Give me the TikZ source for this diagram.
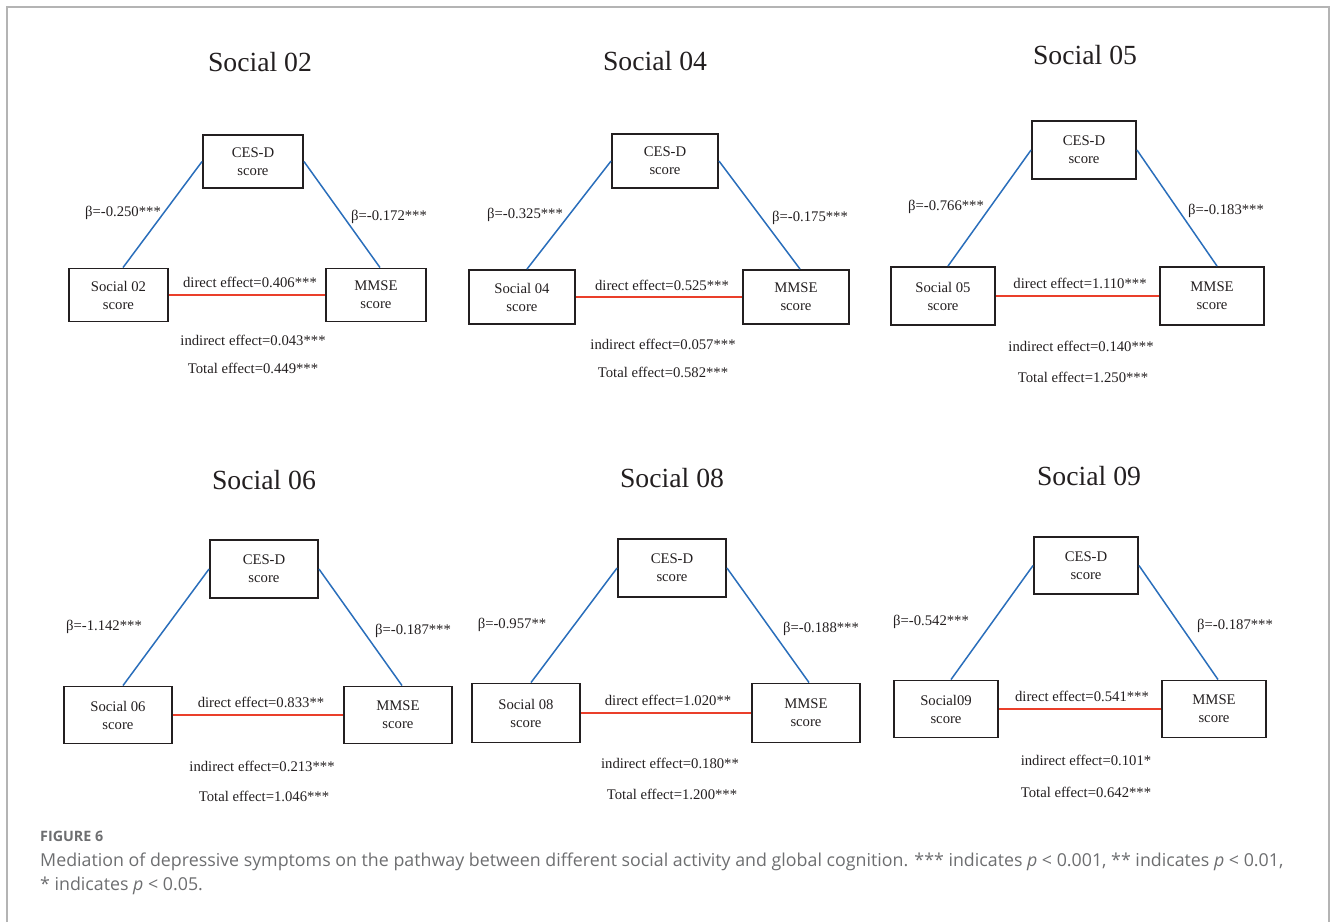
\documentclass[tikz,border=0pt]{standalone}
\usepackage{fontspec}
\setmainfont{Liberation Serif}
\newfontfamily\capfont{Open Sans}
\definecolor{ink}{HTML}{231F20}
\definecolor{pathblue}{HTML}{2A6EBB}
\definecolor{pathred}{HTML}{EA3F2A}
\definecolor{capgray}{HTML}{6D6E70}
\definecolor{framegray}{HTML}{B4B4B4}
\tikzset{
 box/.style={draw=ink, line width=1.9pt, rectangle, inner sep=0pt, align=center, font=\fontsize{14.7}{18}\selectfont, text=ink},
 ttl/.style={font=\fontsize{27.7}{30}\selectfont, text=ink, inner sep=0pt},
 lbl/.style={font=\fontsize{14.7}{17}\selectfont, text=ink, inner sep=0pt, text height=10pt, text depth=3pt},
 blueline/.style={draw=pathblue, line width=1.5pt},
 redline/.style={draw=pathred, line width=1.8pt},
 capnode/.style={inner sep=0pt, text=capgray, anchor=base west},
}
\begin{document}
\begin{tikzpicture}[x=1pt,y=-1pt]
\useasboundingbox (0,0) rectangle (1330,922);
\draw[framegray, line width=1.2pt] (7,922) -- (7,7) -- (1329,7) -- (1329,922);

% ---------- Panel 1: Social 02
\node[ttl] (p1t) at (260,62) {Social 02};
\node[box, minimum width=100pt, minimum height=53pt] (p1c) at (253,161.5) {CES-D\\score};
\node[box, minimum width=99pt, minimum height=53pt] (p1l) at (118.5,295) {Social 02\\score};
\node[box, minimum width=100pt, minimum height=53pt] (p1r) at (376,295) {MMSE\\score};
\draw[blueline] (p1c.west) -- ([xshift=4.5pt]p1l.north);
\draw[blueline] (p1c.east) -- ([xshift=4pt]p1r.north);
\draw[redline] (p1l.east) -- (p1r.west);
\node[lbl] (p1a) at (123,213) {β=-0.250***};
\node[lbl] (p1b) at (389,217) {β=-0.172***};
\node[lbl] (p1d) at (250,284) {direct effect=0.406***};
\node[lbl] (p1i) at (253,342) {indirect effect=0.043***};
\node[lbl] (p1s) at (253,370) {Total effect=0.449***};

% ---------- Panel 2: Social 04
\node[ttl] (p2t) at (655,61) {Social 04};
\node[box, minimum width=106pt, minimum height=54pt] (p2c) at (665,161) {CES-D\\score};
\node[box, minimum width=106pt, minimum height=54pt] (p2l) at (522,297) {Social 04\\score};
\node[box, minimum width=106pt, minimum height=54pt] (p2r) at (796,297) {MMSE\\score};
\draw[blueline] (p2c.west) -- ([xshift=5pt]p2l.north);
\draw[blueline] (p2c.east) -- ([xshift=4pt]p2r.north);
\draw[redline] (p2l.east) -- (p2r.west);
\node[lbl] (p2a) at (525,215) {β=-0.325***};
\node[lbl] (p2b) at (810,218) {β=-0.175***};
\node[lbl] (p2d) at (662,287) {direct effect=0.525***};
\node[lbl] (p2i) at (663,346) {indirect effect=0.057***};
\node[lbl] (p2s) at (663,374) {Total effect=0.582***};

% ---------- Panel 3: Social 05
\node[ttl] (p3t) at (1085,55) {Social 05};
\node[box, minimum width=104pt, minimum height=58pt] (p3c) at (1084,150) {CES-D\\score};
\node[box, minimum width=104pt, minimum height=58pt] (p3l) at (943,296) {Social 05\\score};
\node[box, minimum width=104pt, minimum height=58pt] (p3r) at (1212,296) {MMSE\\score};
\draw[blueline] (p3c.west) -- ([xshift=5pt]p3l.north);
\draw[blueline] (p3c.east) -- ([xshift=5pt]p3r.north);
\draw[redline] (p3l.east) -- (p3r.west);
\node[lbl] (p3a) at (946,207) {β=-0.766***};
\node[lbl] (p3b) at (1226,211) {β=-0.183***};
\node[lbl] (p3d) at (1080,285) {direct effect=1.110***};
\node[lbl] (p3i) at (1081,348) {indirect effect=0.140***};
\node[lbl] (p3s) at (1083,379) {Total effect=1.250***};

% ---------- Panel 4: Social 06
\node[ttl] (p4t) at (264,480) {Social 06};
\node[box, minimum width=108pt, minimum height=58pt] (p4c) at (264,569) {CES-D\\score};
\node[box, minimum width=108pt, minimum height=57pt] (p4l) at (118,715) {Social 06\\score};
\node[box, minimum width=108pt, minimum height=57pt] (p4r) at (398,715) {MMSE\\score};
\draw[blueline] (p4c.west) -- ([xshift=5pt]p4l.north);
\draw[blueline] (p4c.east) -- ([xshift=4pt]p4r.north);
\draw[redline] (p4l.east) -- (p4r.west);
\node[lbl] (p4a) at (104,627) {β=-1.142***};
\node[lbl] (p4b) at (413,631) {β=-0.187***};
\node[lbl] (p4d) at (261,704) {direct effect=0.833**};
\node[lbl] (p4i) at (262,768) {indirect effect=0.213***};
\node[lbl] (p4s) at (264,798) {Total effect=1.046***};

% ---------- Panel 5: Social 08
\node[ttl] (p5t) at (672,478) {Social 08};
\node[box, minimum width=108pt, minimum height=58pt] (p5c) at (672,568) {CES-D\\score};
\node[box, minimum width=108pt, minimum height=59pt] (p5l) at (526,713) {Social 08\\score};
\node[box, minimum width=108pt, minimum height=59pt] (p5r) at (806,713) {MMSE\\score};
\draw[blueline] (p5c.west) -- ([xshift=5pt]p5l.north);
\draw[blueline] (p5c.east) -- ([xshift=3pt]p5r.north);
\draw[redline] (p5l.east) -- (p5r.west);
\node[lbl] (p5a) at (512,625) {β=-0.957**};
\node[lbl] (p5b) at (821,629) {β=-0.188***};
\node[lbl] (p5d) at (668,702) {direct effect=1.020**};
\node[lbl] (p5i) at (670,765) {indirect effect=0.180**};
\node[lbl] (p5s) at (672,796) {Total effect=1.200***};

% ---------- Panel 6: Social 09
\node[ttl] (p6t) at (1089,476) {Social 09};
\node[box, minimum width=104pt, minimum height=57pt] (p6c) at (1086,565.5) {CES-D\\score};
\node[box, minimum width=104pt, minimum height=57pt] (p6l) at (946,709) {Social09\\score};
\node[box, minimum width=104pt, minimum height=57pt] (p6r) at (1214,709) {MMSE\\score};
\draw[blueline] (p6c.west) -- ([xshift=5pt]p6l.north);
\draw[blueline] (p6c.east) -- ([xshift=4pt]p6r.north);
\draw[redline] (p6l.east) -- (p6r.west);
\node[lbl] (p6a) at (931,622) {β=-0.542***};
\node[lbl] (p6b) at (1235,626) {β=-0.187***};
\node[lbl] (p6d) at (1082,698) {direct effect=0.541***};
\node[lbl] (p6i) at (1086,762) {indirect effect=0.101*};
\node[lbl] (p6s) at (1086,794) {Total effect=0.642***};

% ---------- Caption
\node[capnode] (cap0) at (40,841) {\capfont\bfseries\fontsize{14.3}{16}\selectfont FIGURE 6};
\node[capnode] (cap1) at (40,866) {\capfont\fontsize{17.8}{20}\selectfont Mediation of depressive symptoms on the pathway between different social activity and global cognition. *** indicates \textit{p} < 0.001, ** indicates \textit{p} < 0.01,};
\node[capnode] (cap2) at (40,890) {\capfont\fontsize{17.8}{20}\selectfont * indicates \textit{p} < 0.05.};
\end{tikzpicture}
\end{document}
